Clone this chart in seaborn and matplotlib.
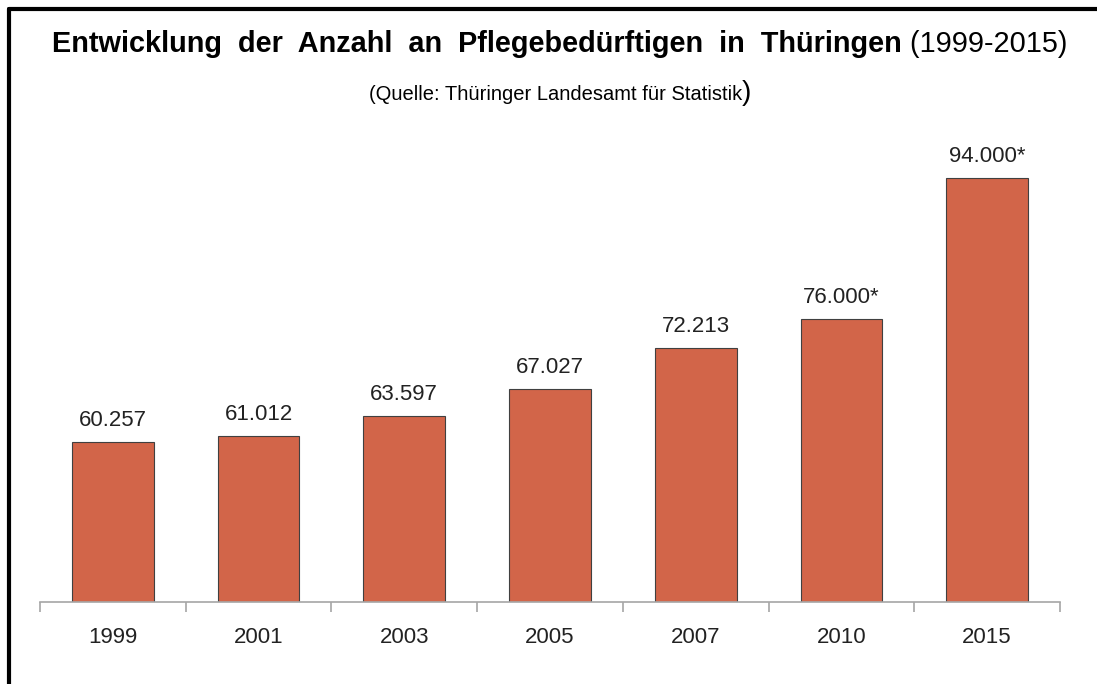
import matplotlib
matplotlib.use("Agg")
import matplotlib.pyplot as plt
from matplotlib.lines import Line2D
import pandas as pd
import seaborn as sns

years = ["1999", "2001", "2003", "2005", "2007", "2010", "2015"]
counts = [60257, 61012, 63597, 67027, 72213, 76000, 94000]
labels = ["60.257", "61.012", "63.597", "67.027", "72.213", "76.000*", "94.000*"]

df = pd.DataFrame({"Jahr": years, "Anzahl": counts})

sns.set_style("white")
plt.rcParams["font.family"] = ["Liberation Sans", "DejaVu Sans"]

fig = plt.figure(figsize=(10.97, 6.84), dpi=100)
ax = fig.add_axes([40 / 1097, 1 - 602 / 684, 1020 / 1097, 462 / 684])

sns.barplot(data=df, x="Jahr", y="Anzahl", color="#D26549", saturation=1,
            width=0.56, edgecolor="#404040", linewidth=0.8, ax=ax)

ax.set_ylim(39800, 98850)
ax.set_xlim(-0.5, len(years) - 0.5)
for i, (v, lab) in enumerate(zip(counts, labels)):
    ax.annotate(lab, (i, v), xytext=(0, 8), textcoords="offset points",
                ha="center", va="bottom", fontsize=16, color="#222222")

for s in ["top", "right", "left"]:
    ax.spines[s].set_visible(False)
ax.spines["bottom"].set_color("#A6A6A6")
ax.spines["bottom"].set_linewidth(1.2)
ax.set_yticks([])
ax.set_xticks(range(len(years)))
ax.set_xticklabels(years, fontsize=16, color="#222222")
ax.tick_params(axis="x", which="major", length=0, pad=18, bottom=True)
ax.set_xticks([i - 0.5 for i in range(len(years) + 1)], minor=True)
ax.tick_params(axis="x", which="minor", length=7, width=1.2, color="#A6A6A6",
               direction="out", bottom=True)
ax.set_xlabel("")
ax.set_ylabel("")

# title in two parts: bold + normal
fig.canvas.draw()
r = fig.canvas.get_renderer()
t1 = fig.text(0, 1 - 44 / 684, "Entwicklung  der  Anzahl  an  Pflegebedürftigen  in  Thüringen",
              fontsize=20.8, fontweight="bold", va="center", ha="left", color="black")
t2 = fig.text(0, 1 - 44 / 684, " (1999-2015)", fontsize=20.8, va="center", ha="left", color="black")
w1 = t1.get_window_extent(r).width / 1097
w2 = t2.get_window_extent(r).width / 1097
x0 = 560 / 1097 - (w1 + w2) / 2
t1.set_x(x0)
t2.set_x(x0 + w1)

s1 = fig.text(0, 1 - 95 / 684, "(Quelle: Thüringer Landesamt für Statistik",
              fontsize=14.5, va="center", ha="left", color="black")
s2 = fig.text(0, 1 - 93 / 684, ")", fontsize=20, va="center", ha="left", color="black")
v1 = s1.get_window_extent(r).width / 1097
v2 = s2.get_window_extent(r).width / 1097
x1 = 560 / 1097 - (v1 + v2) / 2
s1.set_x(x1)
s2.set_x(x1 + v1)

# frame lines (top and left)
fig.add_artist(Line2D([9 / 1097, 1], [1 - 9 / 684, 1 - 9 / 684], color="black", lw=3,
                      transform=fig.transFigure))
fig.add_artist(Line2D([9 / 1097, 9 / 1097], [0, 1 - 9 / 684], color="black", lw=3,
                      transform=fig.transFigure))

fig.savefig("out.png", dpi=100)
